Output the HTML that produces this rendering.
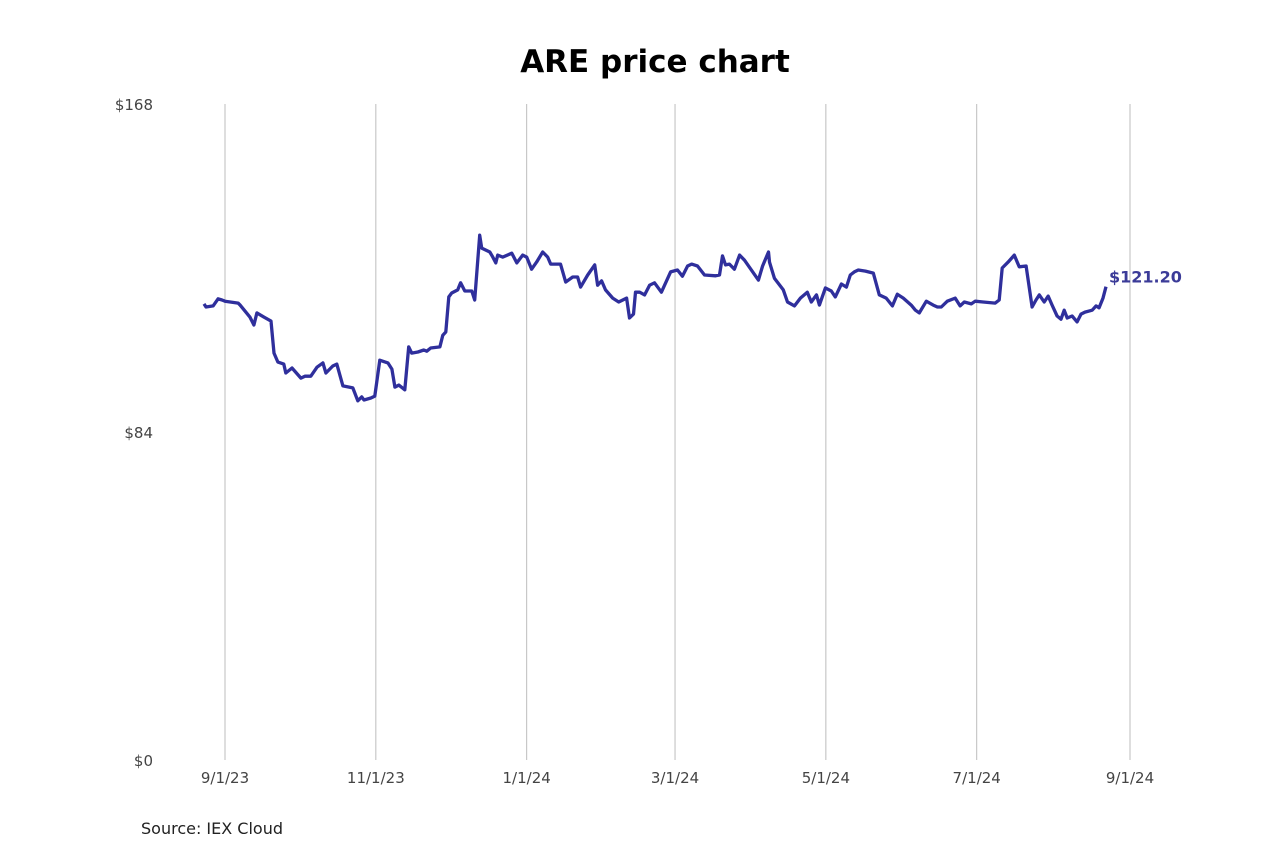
<!DOCTYPE html>
<html><head><meta charset="utf-8"><style>
html,body{margin:0;padding:0;background:#fff;}
svg{display:block;font-family:"DejaVu Sans","Liberation Sans",sans-serif;}
</style></head><body>
<svg id="chart" width="1280" height="853" viewBox="0 0 1280 853" xmlns="http://www.w3.org/2000/svg">
<rect width="1280" height="853" fill="#fff"/>
<text x="655" y="72" text-anchor="middle" font-size="31" font-weight="bold" fill="#000">ARE price chart</text>
<g id="grid"></g><g id="yticks"></g><g id="xticks"></g>
<path id="line" fill="none" stroke="#2f2f9c" stroke-width="3.3" stroke-linejoin="round"/>
<text id="lastlabel" font-size="16" font-weight="bold" fill="#3b3b98"></text>
<text x="141" y="834" font-size="16" fill="#222">Source: IEX Cloud</text>
</svg>
<script>
// days since 2023-09-01
const days=[-8.5,-7.7,-4.8,-2.8,-1.2,0,5.3,6.1,10.1,11.7,12.9,15.8,18.6,19.8,21.4,23.8,24.6,27.1,30.7,32.3,34.7,37.2,39.6,40.8,43.6,45.2,47.7,51.7,52.5,53.7,55.3,56.2,59.0,60.6,62.6,65.9,67.5,68.7,70.3,72.7,74.3,75.5,78.0,80.4,81.6,83.2,86.9,88.1,89.3,90.5,91.7,94.1,95.3,97.0,99.8,101.0,103.0,103.8,107.1,108.3,109.5,110.3,112.3,116.0,118.0,120.4,122.0,124.0,126.0,128.5,130.5,131.7,135.7,137.8,140.6,142.6,143.8,146.7,149.5,150.7,152.3,153.9,156.8,159.2,162.4,163.6,165.2,166.0,167.7,169.7,171.7,173.7,176.5,180.2,183.0,185.0,187.1,188.7,191.1,193.9,198.4,200.0,201.2,202.4,204.0,206.0,208.1,210.1,215.7,217.4,219.8,220.2,222.2,225.8,227.5,230.3,232.7,235.5,237.1,239.2,240.4,242.8,245.2,246.8,249.3,251.3,252.9,254.5,256.1,259.0,262.2,264.6,267.4,269.9,271.9,274.3,277.5,279.2,280.8,283.6,286.4,288.1,289.7,292.1,295.3,297.3,299.0,301.8,303.4,306.6,311.5,313.1,314.3,316.7,319.2,321.2,324.0,326.4,328.0,329.3,331.3,332.9,334.5,336.5,338.1,339.4,340.6,342.6,344.6,346.2,347.8,350.7,352.3,353.5,355.1,356.3];
const prices=[116.8,116.0,116.3,118.1,117.8,117.5,117.0,116.5,113.4,111.4,114.5,113.4,112.4,104.2,101.9,101.4,99.1,100.4,97.8,98.3,98.3,100.6,101.7,99.1,100.9,101.4,95.8,95.3,94.0,92.0,93.0,92.2,92.7,93.2,102.4,101.7,100.1,95.5,96.0,94.8,105.8,104.2,104.5,105.0,104.7,105.5,105.8,108.8,109.6,118.6,119.6,120.4,122.2,120.1,120.1,117.8,134.4,131.1,130.1,128.8,127.3,129.3,128.8,129.8,127.3,129.3,128.8,125.7,127.5,130.1,128.8,127.0,127.0,122.4,123.7,123.7,121.1,124.2,126.8,121.6,122.7,120.4,118.3,117.3,118.3,113.2,114.2,119.8,119.8,119.1,121.6,122.2,119.8,125.0,125.5,123.9,126.5,127.0,126.5,124.2,124.0,124.2,129.1,126.8,127.0,125.7,129.3,128.0,122.9,126.5,130.1,127.5,123.4,120.4,117.3,116.3,118.3,119.8,117.3,119.1,116.5,120.9,120.1,118.6,121.9,121.1,124.2,125.0,125.5,125.2,124.7,119.1,118.3,116.3,119.3,118.3,116.5,115.2,114.5,117.5,116.5,116.0,116.0,117.5,118.3,116.3,117.3,116.8,117.5,117.3,117.0,117.8,126.0,127.5,129.3,126.3,126.5,116.0,117.8,119.1,117.3,118.8,116.5,113.7,112.9,115.2,113.2,113.7,112.2,114.2,114.7,115.2,116.3,115.8,118.3,121.2];
const yTicks=[0,84,168];
const xTickDays=[0,61,122,182,243,304,366];
const xTickLabels=["9/1/23","11/1/23","1/1/24","3/1/24","5/1/24","7/1/24","9/1/24"];
const lastLabel="$121.20";

const NS="http://www.w3.org/2000/svg";
const X0=225,X1=1130,Y0=760,Y1=104;
function xs(d){return X0+d*(X1-X0)/366;}
function ys(p){return Y0-p*(Y0-Y1)/168;}
function mk(tag,attrs,parent){const e=document.createElementNS(NS,tag);for(const k in attrs)e.setAttribute(k,attrs[k]);parent.appendChild(e);return e;}
const grid=document.getElementById('grid'),yt=document.getElementById('yticks'),xt=document.getElementById('xticks');
xTickDays.forEach((d,i)=>{
  const l=mk('line',{x1:xs(d),x2:xs(d),y1:Y1,y2:Y0,stroke:'#bdbdbd','stroke-width':1},grid);
  
  
  const t=mk('text',{x:xs(d),y:783,'text-anchor':'middle','font-size':15,fill:'#444'},xt);
  t.textContent=xTickLabels[i];
  
  
});
yTicks.forEach(v=>{
  const t=mk('text',{x:153,y:ys(v)+6,'text-anchor':'end','font-size':15,fill:'#444'},yt);
  t.textContent='$'+v;
  
  
});
let d='';
days.forEach((dd,i)=>{d+=(i?'L':'M')+xs(dd).toFixed(1)+','+ys(prices[i]).toFixed(1);});
document.getElementById('line').setAttribute('d',d);
const ll=document.getElementById('lastlabel');
const n=days.length-1;
ll.setAttribute('x',xs(days[n])+3);
ll.setAttribute('y',ys(prices[n])-4);
ll.textContent=lastLabel;
</script>
</body></html>
